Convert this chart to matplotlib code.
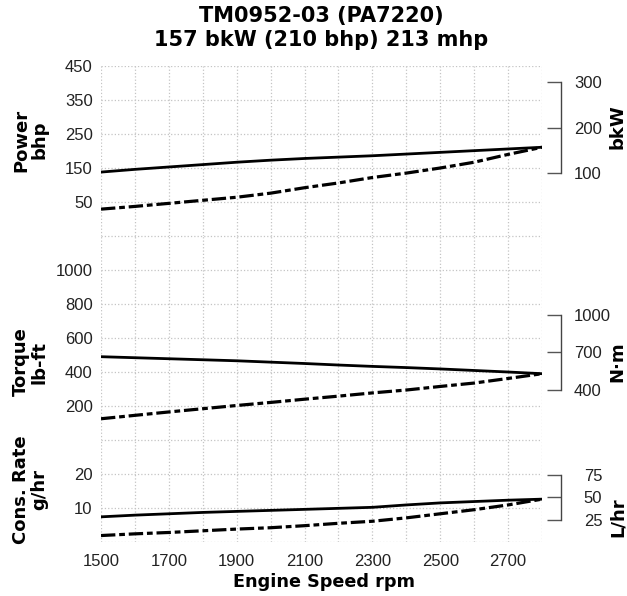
import matplotlib
matplotlib.use("Agg")
import matplotlib.pyplot as plt

# engine speed, rpm
rpm = [1500, 1600, 1700, 1800, 1900, 2000, 2100, 2200, 2300, 2400, 2500, 2600, 2700, 2800]

# power, bhp
power_full = [138, 146, 153, 160, 167, 173, 178, 182, 186, 191, 196, 201, 206, 211]
power_prop = [29, 37, 46, 55, 64, 76, 92, 106, 122, 135, 150, 167, 190, 211]

# torque, lb-ft
torque_full = [490, 484, 478, 472, 466, 458, 450, 441, 433, 426, 418, 409, 400, 390]
torque_prop = [125, 145, 165, 184, 203, 221, 240, 258, 277, 294, 315, 335, 362, 390]

# consumption rate, gal/hr
cons_full = [7.4, 7.9, 8.3, 8.7, 9.0, 9.3, 9.6, 9.9, 10.2, 10.9, 11.5, 11.9, 12.3, 12.6]
cons_prop = [1.9, 2.4, 2.8, 3.3, 3.8, 4.2, 4.8, 5.5, 6.1, 7.1, 8.3, 9.5, 10.9, 12.6]

x_labels = [1500, 1700, 1900, 2100, 2300, 2500, 2700]

W, H = 627, 596
fig = plt.figure(figsize=(W / 100, H / 100), dpi=100)

BOLD = dict(family="DejaVu Sans", weight="bold")
TICKFONT = "Liberation Sans"
dash = (0, (4.5, 1.2, 1.8, 1.2))


def px_axes(top, bottom):
    left, right = 101, 542
    return fig.add_axes([left / W, 1 - bottom / H, (right - left) / W, (bottom - top) / H])


def setup(ax, ylim, yt, ylab):
    ax.set_xlim(1500, 2800)
    ax.set_ylim(*ylim)
    for s in ax.spines.values():
        s.set_visible(False)
    ax.set_xticks(range(1500, 2801, 100))
    ax.set_xticklabels([])
    ax.set_yticks(yt)
    ax.set_yticklabels([str(v) if v in ylab else "" for v in yt], fontfamily=TICKFONT)
    ax.tick_params(length=0, labelsize=12, pad=6, colors="#222")
    ax.grid(True, color="#c4c4c4", linestyle=":", linewidth=0.9)
    ax.set_axisbelow(True)


def right_scale(ax, factor, ticks, pad):
    tw = ax.twinx()
    lo, hi = ax.get_ylim()
    tw.set_ylim(lo * factor, hi * factor)
    for k in ["left", "top", "bottom"]:
        tw.spines[k].set_visible(False)
    tw.spines["right"].set_position(("outward", 14))
    tw.spines["right"].set_bounds(ticks[0], ticks[-1])
    tw.spines["right"].set_color("#444")
    tw.spines["right"].set_linewidth(1)
    tw.set_yticks(ticks)
    tw.set_yticklabels([str(t) for t in ticks], fontfamily=TICKFONT)
    tw.tick_params(axis="y", direction="in", length=10, width=1, color="#555",
                   labelsize=12, pad=pad, labelcolor="#222")
    return tw


# power
ax1 = px_axes(66, 236)
setup(ax1, (-50, 450), list(range(-50, 451, 100)), [50, 150, 250, 350, 450])
ax1.plot(rpm, power_full, color="black", lw=2)
ax1.plot(rpm, power_prop, color="black", lw=2.3, linestyle=dash)
right_scale(ax1, 1 / 1.341, [100, 200, 300], 9)

# torque
ax2 = px_axes(236, 440)
setup(ax2, (0, 1200), list(range(0, 1201, 200)), [200, 400, 600, 800, 1000])
ax2.plot(rpm, torque_full, color="black", lw=2)
ax2.plot(rpm, torque_prop, color="black", lw=2.3, linestyle=dash)
right_scale(ax2, 1.3558, [400, 700, 1000], 9)

# consumption
ax3 = px_axes(440, 542)
setup(ax3, (0, 30), [0, 10, 20, 30], [10, 20])
ax3.plot(rpm, cons_full, color="black", lw=2)
ax3.plot(rpm, cons_prop, color="black", lw=2.3, linestyle=dash)
right_scale(ax3, 3.785, [25, 50, 75], 16)
ax3.set_xticklabels([str(v) if v in x_labels else "" for v in range(1500, 2801, 100)],
                    fontfamily=TICKFONT)
ax3.tick_params(axis="x", pad=9)


def ftext(x, y, s, **kw):
    fig.text(x / W, 1 - y / H, s, ha="center", va="center", **kw)


ftext(321, 28, "TM0952-03 (PA7220)\n157 bkW (210 bhp) 213 mhp", fontsize=15,
      linespacing=1.2, **BOLD)
ftext(324, 582, "Engine Speed rpm", fontsize=12.7, **BOLD)

ftext(30, 140, "Power\nbhp", fontsize=13, rotation=90, linespacing=1.0, **BOLD)
ftext(30, 362, "Torque\nlb-ft", fontsize=13, rotation=90, linespacing=1.0, **BOLD)
ftext(30, 490, "Cons. Rate\ng/hr", fontsize=13, rotation=90, linespacing=1.0, **BOLD)

ftext(617, 127, "bkW", fontsize=13, rotation=90, **BOLD)
ftext(617, 362, "N\u00b7m", fontsize=13, rotation=90, **BOLD)
ftext(618, 517, "L/hr", fontsize=13, rotation=90, **BOLD)

fig.savefig("out.png", dpi=100)
